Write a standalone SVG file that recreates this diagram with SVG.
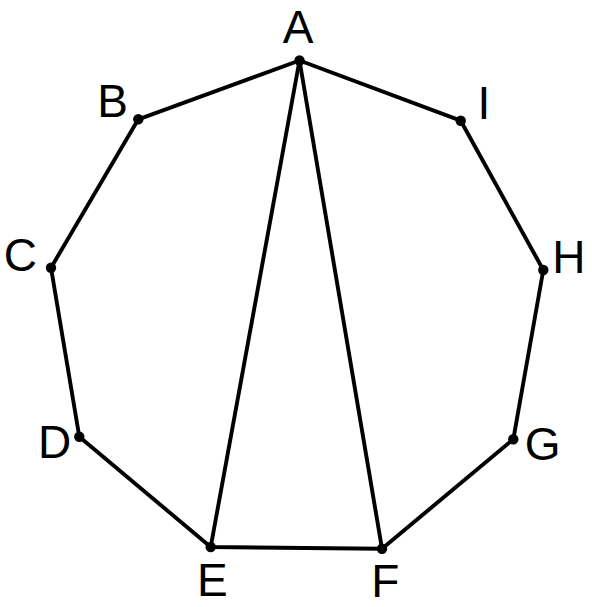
<svg xmlns="http://www.w3.org/2000/svg" width="592" height="607" viewBox="0 0 592 607">
<style>
.edge{stroke:#000;stroke-width:3.9;fill:none;stroke-linecap:round;stroke-linejoin:round}
.pt{fill:#000}
.lbl{font-family:"Liberation Sans",Arial,sans-serif;font-size:46px;fill:#000;text-anchor:middle}
</style>
<rect width="592" height="607" fill="#fff"/>
<g id="connectors">
<polygon class="edge" points="299.5,60.5 138.3,119.3 51,267.7 79.3,436.7 210.7,547 382,548.7 513.3,439.3 543.3,270 460.7,120.7"/>
<line class="edge" x1="299.5" y1="60.5" x2="210.7" y2="547"/>
<line class="edge" x1="299.5" y1="60.5" x2="382" y2="548.7"/>
</g>
<g id="A"><circle class="pt" cx="299.5" cy="60.5" r="5.2"/><text class="lbl" x="298" y="43">A</text></g>
<g id="B"><circle class="pt" cx="138.3" cy="119.3" r="5.2"/><text class="lbl" x="112.6" y="116.7">B</text></g>
<g id="C"><circle class="pt" cx="51" cy="267.7" r="5.2"/><text class="lbl" x="20.3" y="270.5">C</text></g>
<g id="D"><circle class="pt" cx="79.3" cy="436.7" r="5.2"/><text class="lbl" x="54.7" y="458.3">D</text></g>
<g id="E"><circle class="pt" cx="210.7" cy="547" r="5.2"/><text class="lbl" x="212.3" y="596">E</text></g>
<g id="F"><circle class="pt" cx="382" cy="548.7" r="5.2"/><text class="lbl" x="385.3" y="597">F</text></g>
<g id="G"><circle class="pt" cx="513.3" cy="439.3" r="5.2"/><text class="lbl" x="542.6" y="460">G</text></g>
<g id="H"><circle class="pt" cx="543.3" cy="270" r="5.2"/><text class="lbl" x="568.9" y="273.3">H</text></g>
<g id="I"><circle class="pt" cx="460.7" cy="120.7" r="5.2"/><text class="lbl" x="483.9" y="119.3">I</text></g>
</svg>
